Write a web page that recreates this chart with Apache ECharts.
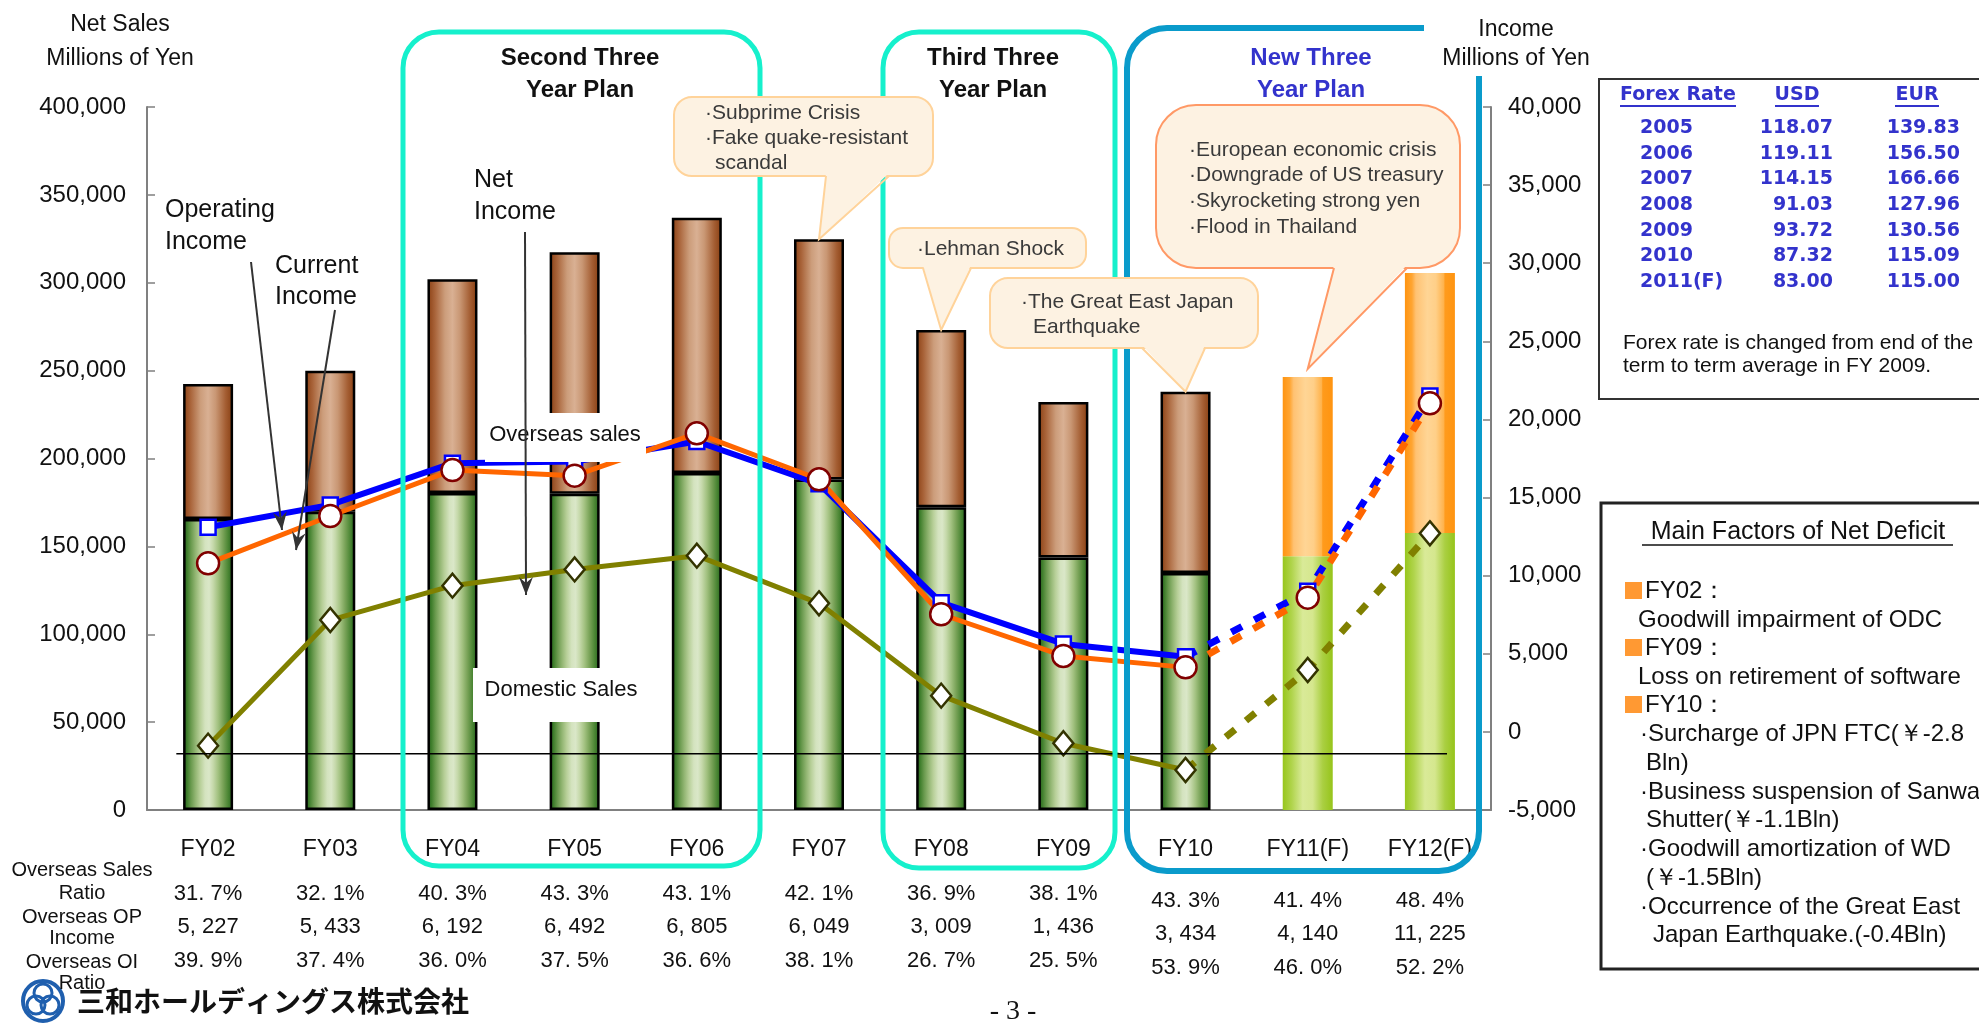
<!DOCTYPE html>
<html>
<head>
<meta charset="utf-8">
<script src="https://cdn.jsdelivr.net/npm/echarts@6/dist/echarts.min.js"></script>
<style>
  html, body { margin: 0; padding: 0; background: #fff; }
  #chart { width: 1979px; height: 1024px; }
</style>
</head>
<body>
<div id="chart"></div>
<script>
// ---- data ----
const categories = ['FY02', 'FY03', 'FY04', 'FY05', 'FY06', 'FY07', 'FY08', 'FY09', 'FY10', 'FY11(F)', 'FY12(F)'];
const domesticSales = [165600, 169700, 180300, 179900, 191700, 188000, 172300, 143700, 134900, 144400, 157600];
const overseasSales = [76800, 80300, 121700, 137400, 145300, 136700, 100800, 88400, 103100, 102000, 147900];
const operatingIncome = [13100, 14530, 17200, 17310, 18590, 15880, 8270, 5630, 4810, 9000, 21500];
const currentIncome = [10790, 13820, 16760, 16400, 19110, 16170, 7530, 4860, 4130, 8590, 21030];
const netIncome = [-880, 7160, 9360, 10400, 11280, 8230, 2320, -730, -2440, 3960, 12710];
const lastActual = 8; // FY10, forecasts follow

const overseasSalesRatio = ['31. 7%', '32. 1%', '40. 3%', '43. 3%', '43. 1%', '42. 1%', '36. 9%', '38. 1%', '43. 3%', '41. 4%', '48. 4%'];
const overseasOpIncome = ['5, 227', '5, 433', '6, 192', '6, 492', '6, 805', '6, 049', '3, 009', '1, 436', '3, 434', '4, 140', '11, 225'];
const overseasOiRatio = ['39. 9%', '37. 4%', '36. 0%', '37. 5%', '36. 6%', '38. 1%', '26. 7%', '25. 5%', '53. 9%', '46. 0%', '52. 2%'];

const forexYears = ['2005', '2006', '2007', '2008', '2009', '2010', '2011(F)'];
const forexUSD = ['118.07', '119.11', '114.15', '91.03', '93.72', '87.32', '83.00'];
const forexEUR = ['139.83', '156.50', '166.66', '127.96', '130.56', '115.09', '115.00'];

const SANS = '"Liberation Sans", Arial, sans-serif';

function grad(stops) {
  return new echarts.graphic.LinearGradient(0, 0, 1, 0,
    stops.map(s => ({ offset: s[0], color: s[1] })));
}
const brown = grad([[0, '#8a3f12'], [0.15, '#a9643a'], [0.35, '#cc9d7b'], [0.5, '#d9b093'], [0.65, '#c99774'], [0.85, '#a45e33'], [1, '#873d10']]);
const green = grad([[0, '#1f5a1a'], [0.08, '#3f7e2c'], [0.16, '#6a9a4e'], [0.25, '#93b673'], [0.34, '#b7cf98'], [0.44, '#d4e3bf'], [0.52, '#dae7c8'], [0.6, '#c6d9ab'], [0.7, '#a2c180'], [0.8, '#78a257'], [0.9, '#4b8634'], [1, '#22601b']]);
const orangeFc = grad([[0, '#ff9410'], [0.14, '#ffa532'], [0.22, '#ffc273'], [0.45, '#ffd595'], [0.62, '#ffcf88'], [0.78, '#ffb24a'], [0.8, '#ff9b1c'], [1, '#ff9410']]);
const greenFc = grad([[0, '#97c61c'], [0.18, '#b0d44c'], [0.4, '#d9ea98'], [0.6, '#d5e78e'], [0.8, '#aacf42'], [1, '#96c41a']]);

const barItem = (v, i, act, fc) => ({
  value: v,
  itemStyle: i > lastActual
    ? { color: fc, borderWidth: 0 }
    : { color: act, borderColor: '#000', borderWidth: 2.5 }
});

function lineSeries(name, values, color, width, symbol, size, border) {
  const common = {
    type: 'line', yAxisIndex: 1, symbol: symbol, symbolSize: size,
    itemStyle: { color: '#fff', borderColor: border, borderWidth: 2.5 },
  };
  return [
    Object.assign({}, common, {
      name: name + ' (F)',
      data: values.map((v, i) => i < lastActual ? '-' : (i === lastActual ? { value: v, symbol: 'none' } : v)),
      lineStyle: { color: color, width: 7, type: [12, 14], cap: 'butt' },
      z: 3
    }),
    Object.assign({}, common, {
      name: name,
      data: values.map((v, i) => i <= lastActual ? v : '-'),
      lineStyle: { color: color, width: width },
      z: 4
    })
  ];
}

const axisLabelFmt = v => v.toLocaleString('en-US');

const option = {
  animation: false,
  grid: { left: 147, right: 488, top: 107, bottom: 214 },
  xAxis: {
    type: 'category',
    data: categories,
    axisLine: { lineStyle: { color: '#808080', width: 2 } },
    axisTick: { inside: true, length: 8, lineStyle: { color: '#808080', width: 1.5 } },
    axisLabel: { fontSize: 23, color: '#111', margin: 28, fontFamily: SANS }
  },
  yAxis: [
    {
      type: 'value', min: 0, max: 400000, interval: 50000,
      splitLine: { show: false },
      axisLine: { show: true, lineStyle: { color: '#808080', width: 2 } },
      axisTick: { show: true, inside: true, length: 8, lineStyle: { color: '#808080', width: 1.5 } },
      axisLabel: { fontSize: 24, color: '#111', margin: 21, fontFamily: SANS, formatter: axisLabelFmt }
    },
    {
      type: 'value', position: 'right', min: -5000, max: 40000, interval: 5000,
      splitLine: { show: false },
      axisLine: { show: true, lineStyle: { color: '#808080', width: 2 } },
      axisTick: { show: true, inside: true, length: 8, lineStyle: { color: '#808080', width: 1.5 } },
      axisLabel: { fontSize: 24, color: '#111', margin: 17, fontFamily: SANS, formatter: axisLabelFmt }
    }
  ],
  series: [
    { name: 'Domestic Sales', type: 'bar', stack: 'sales', barWidth: 50, z: 2,
      data: domesticSales.map((v, i) => barItem(v, i, green, greenFc)) },
    { name: 'Overseas Sales', type: 'bar', stack: 'sales', barWidth: 50, z: 2,
      data: overseasSales.map((v, i) => barItem(v, i, brown, orangeFc)) },
    ...lineSeries('Operating Income', operatingIncome, '#0000ff', 6, 'rect', 15, '#0000ff'),
    ...lineSeries('Current Income', currentIncome, '#ff6600', 5, 'circle', 22, '#800000'),
    ...lineSeries('Net Income', netIncome, '#808000', 5, 'diamond', [20, 24], '#333300')
  ]
};

const chart = echarts.init(document.getElementById('chart'));
chart.setOption(option);

// ---- annotations, placed with the chart's own scales where they point at data ----
const px = i => chart.convertToPixel({ xAxisIndex: 0 }, i);
const pyL = v => chart.convertToPixel({ yAxisIndex: 0 }, v);
const pyR = v => chart.convertToPixel({ yAxisIndex: 1 }, v);
const topOf = i => pyL(domesticSales[i] + overseasSales[i]);

const g = [];
function text(x, y, t, font, opts, z) {
  g.push({ type: 'text', z: z || 120, style: Object.assign({
    x: x, y: y, text: t, font: font, fill: '#111',
    textAlign: 'left', textVerticalAlign: 'middle' }, opts || {}) });
}
function line(x1, y1, x2, y2, stroke, w, z) {
  g.push({ type: 'line', z: z || 110, shape: { x1, y1, x2, y2 }, style: { stroke, lineWidth: w } });
}
function rect(x, y, w, h, style, r, z) {
  g.push({ type: 'rect', z: z || 100, shape: { x, y, width: w, height: h, r: r || 0 }, style });
}
function arrow(x1, y1, x2, y2) {
  line(x1, y1, x2, y2, '#333', 2, 130);
  const len = Math.hypot(x2 - x1, y2 - y1), dx = (x2 - x1) / len, dy = (y2 - y1) / len;
  const nx = -dy, ny = dx;
  g.push({ type: 'polygon', z: 130, shape: { points: [
    [x2, y2],
    [x2 - 18 * dx + 7 * nx, y2 - 18 * dy + 7 * ny],
    [x2 - 12 * dx, y2 - 12 * dy],
    [x2 - 18 * dx - 7 * nx, y2 - 18 * dy - 7 * ny]
  ] }, style: { fill: '#333' } });
}
function callout(x, y, w, h, r, bl, br, tip, stroke) {
  const fill = '#fdf2e2';
  rect(x, y, w, h, { fill, stroke, lineWidth: 2 }, r, 140);
  g.push({ type: 'polygon', z: 141, shape: { points: [[bl, y + h - 3], [br, y + h - 3], tip] }, style: { fill } });
  g.push({ type: 'polyline', z: 142, shape: { points: [[bl, y + h], tip, [br, y + h]] }, style: { stroke, lineWidth: 2, fill: null } });
}

// plan frames
rect(403, 32, 357, 834, { fill: null, stroke: '#16f0cc', lineWidth: 5 }, 36, 105);
rect(883, 32, 232, 836, { fill: null, stroke: '#16f0cc', lineWidth: 5 }, 36, 105);
rect(1127, 28, 352, 843, { fill: null, stroke: '#0a9bcb', lineWidth: 6 }, 40, 105);
const titleFont = 'bold 24px ' + SANS;
text(580, 58, 'Second Three', titleFont, { textAlign: 'center' });
text(580, 90, 'Year Plan', titleFont, { textAlign: 'center' });
text(993, 58, 'Third Three', titleFont, { textAlign: 'center' });
text(993, 90, 'Year Plan', titleFont, { textAlign: 'center' });
text(1311, 58, 'New Three', titleFont, { textAlign: 'center', fill: '#3333cc' });
text(1311, 90, 'Year Plan', titleFont, { textAlign: 'center', fill: '#3333cc' });

// axis titles
text(120, 25, 'Net Sales', '23px ' + SANS, { textAlign: 'center' });
text(120, 59, 'Millions of Yen', '23px ' + SANS, { textAlign: 'center' });
rect(1424, 0, 185, 76, { fill: '#fff' }, 0, 115);
text(1516, 30, 'Income', '23px ' + SANS, { textAlign: 'center' });
text(1516, 59, 'Millions of Yen', '23px ' + SANS, { textAlign: 'center' });

// stray reference line of the slide
const refY = pyR(-1400), band = px(1) - px(0);
line(px(0) - 0.26 * band, refY, px(10) + 0.14 * band, refY, '#000', 1.5, 90);

// series captions
const capFont = '25px ' + SANS;
text(165, 210, 'Operating', capFont);
text(165, 242, 'Income', capFont);
text(275, 266, 'Current', capFont);
text(275, 297, 'Income', capFont);
text(474, 180, 'Net', capFont);
text(474, 212, 'Income', capFont);
arrow(251, 262, 282, 530);
arrow(335, 310, 296, 550);
rect(485, 413, 161, 49, { fill: '#fff' }, 0, 115);
rect(473, 668, 167, 54, { fill: '#fff' }, 0, 115);
text(565, 435, 'Overseas sales', '22px ' + SANS, { textAlign: 'center' });
text(561, 690, 'Domestic Sales', '22px ' + SANS, { textAlign: 'center' });
arrow(525, 232, 526, 595);

// callouts
const cFont = '21px ' + SANS, cFill = '#3a3a3a';
callout(674, 97, 259, 79, 18, 826, 889, [px(5), topOf(5)], '#ffd39a');
text(705, 113, '·Subprime Crisis', cFont, { fill: cFill }, 150);
text(705, 138, '·Fake quake-resistant', cFont, { fill: cFill }, 150);
text(715, 163, 'scandal', cFont, { fill: cFill }, 150);
callout(889, 228, 197, 40, 14, 923, 971, [px(6), topOf(6)], '#ffd39a');
text(917, 249, '·Lehman Shock', cFont, { fill: cFill }, 150);
callout(990, 278, 268, 70, 18, 1142, 1205, [px(8), topOf(8)], '#ffd39a');
text(1021, 302, '·The Great East Japan', cFont, { fill: cFill }, 150);
text(1033, 327, 'Earthquake', cFont, { fill: cFill }, 150);
callout(1156, 105, 304, 163, 40, 1334, 1407, [px(9), topOf(9) - 8], '#ff9966');
text(1189, 150, '·European economic crisis', cFont, { fill: cFill }, 150);
text(1189, 175, '·Downgrade of US treasury', cFont, { fill: cFill }, 150);
text(1189, 201, '·Skyrocketing strong yen', cFont, { fill: cFill }, 150);
text(1189, 227, '·Flood in Thailand', cFont, { fill: cFill }, 150);

// table under the axis
const rowFont = '20px ' + SANS;
[['Overseas Sales', 870], ['Ratio', 893], ['Overseas OP', 917], ['Income', 938], ['Overseas OI', 962], ['Ratio', 983]]
  .forEach(r => text(82, r[1], r[0], rowFont, { textAlign: 'center' }));
const valFont = '22px ' + SANS;
categories.forEach((c, i) => {
  const dy = i >= lastActual ? 7 : 0;
  text(px(i), 894 + dy, overseasSalesRatio[i], valFont, { textAlign: 'center' });
  text(px(i), 927 + dy, overseasOpIncome[i], valFont, { textAlign: 'center' });
  text(px(i), 961 + dy, overseasOiRatio[i], valFont, { textAlign: 'center' });
});

// forex box
rect(1599, 79, 420, 320, { fill: null, stroke: '#333', lineWidth: 2 }, 0, 100);
const fxFont = 'bold 19px "DejaVu Sans", Verdana, sans-serif', fxCol = '#3333cc';
text(1620, 95, 'Forex Rate', fxFont, { fill: fxCol });
text(1797, 95, 'USD', fxFont, { fill: fxCol, textAlign: 'center' });
text(1917, 95, 'EUR', fxFont, { fill: fxCol, textAlign: 'center' });
line(1620, 106, 1736, 106, fxCol, 2);
line(1775, 106, 1819, 106, fxCol, 2);
line(1895, 106, 1939, 106, fxCol, 2);
forexYears.forEach((y, i) => {
  const yy = 128 + i * 25.7;
  text(1640, yy, y, fxFont, { fill: fxCol });
  text(1833, yy, forexUSD[i], fxFont, { fill: fxCol, textAlign: 'right' });
  text(1960, yy, forexEUR[i], fxFont, { fill: fxCol, textAlign: 'right' });
});
text(1623, 343, 'Forex rate is changed from end of the', '21px ' + SANS);
text(1623, 366, 'term to term average in FY 2009.', '21px ' + SANS);

// deficit factors box
rect(1601, 503, 420, 466, { fill: null, stroke: '#222', lineWidth: 3 }, 0, 100);
text(1798, 532, 'Main Factors of Net Deficit', '25px ' + SANS, { textAlign: 'center' });
line(1642, 545, 1953, 545, '#111', 1.5);
const fFont = '24px ' + SANS;
[591, 648, 705].forEach(y => rect(1625, y - 9, 17, 17, { fill: '#ff9933' }, 0, 110));
text(1645, 591, 'FY02：', fFont);
text(1638, 620, 'Goodwill impairment of ODC', fFont);
text(1645, 648, 'FY09：', fFont);
text(1638, 677, 'Loss on retirement of software', fFont);
text(1645, 705, 'FY10：', fFont);
text(1640, 734, '·Surcharge of JPN FTC(￥-2.8', fFont);
text(1646, 763, 'Bln)', fFont);
text(1640, 792, '·Business suspension of Sanwa', fFont);
text(1646, 820, 'Shutter(￥-1.1Bln)', fFont);
text(1640, 849, '·Goodwill amortization of WD', fFont);
text(1646, 878, '(￥-1.5Bln)', fFont);
text(1640, 907, '·Occurrence of the Great East', fFont);
text(1653, 935, 'Japan Earthquake.(-0.4Bln)', fFont);

// footer: logo and page number
g.push({ type: 'circle', z: 110, shape: { cx: 43, cy: 1001, r: 20 }, style: { fill: null, stroke: '#1f5fae', lineWidth: 4 } });
[[43, 993], [36, 1005], [50, 1005]].forEach(c =>
  g.push({ type: 'circle', z: 110, shape: { cx: c[0], cy: c[1], r: 9 }, style: { fill: null, stroke: '#1f5fae', lineWidth: 3 } }));
text(77, 1001, '三和ホールディングス株式会社', 'bold 28px "Noto Sans CJK JP", sans-serif');
text(1013, 1012, '- 3 -', '28px "Liberation Serif", "DejaVu Serif", serif', { textAlign: 'center' });

chart.setOption({ graphic: g });
</script>
</body>
</html>
